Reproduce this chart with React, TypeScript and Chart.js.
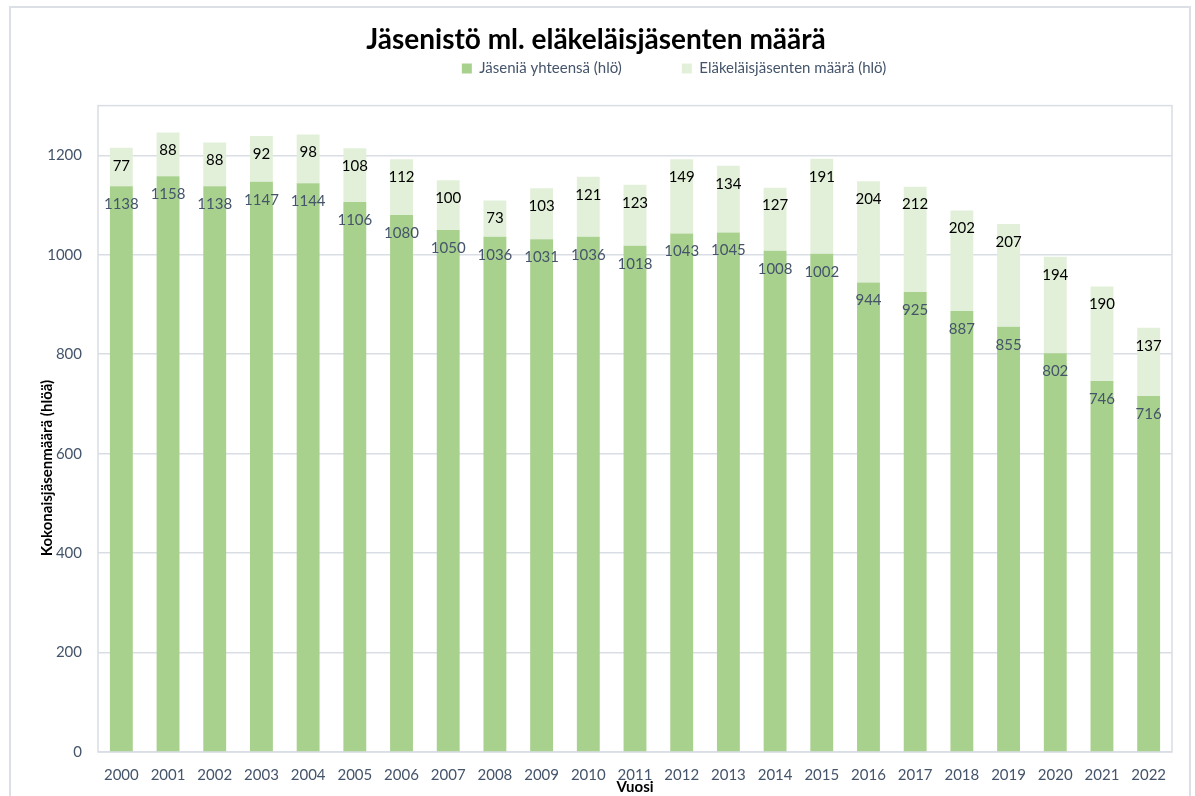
import React, { useEffect, useRef } from "react";
import { Chart, registerables } from "chart.js";

Chart.register(...registerables);

const years = ["2000","2001","2002","2003","2004","2005","2006","2007","2008","2009","2010","2011","2012","2013","2014","2015","2016","2017","2018","2019","2020","2021","2022"];
const members = [1138,1158,1138,1147,1144,1106,1080,1050,1036,1031,1036,1018,1043,1045,1008,1002,944,925,887,855,802,746,716];
const pensioners = [77,88,88,92,98,108,112,100,73,103,121,123,149,134,127,191,204,212,202,207,194,190,137];
const seriesNames = ["Jäseniä yhteensä (hlö)", "Eläkeläisjäsenten määrä (hlö)"];
const titleText = "Jäsenistö ml. eläkeläisjäsenten määrä";
const yTitle = "Kokonaisjäsenmäärä (hlöä)";
const xTitle = "Vuosi";

const FONT = "Lato, 'Open Sans', sans-serif";
const TICK_COLOR = "#44546A";
const GRID = "#D9DDE4";

const outerBorder = {
  id: "outerBorder",
  beforeDraw(chart: any) {
    const { ctx } = chart;
    ctx.save();
    ctx.fillStyle = "#ffffff";
    ctx.fillRect(0, 0, chart.width, chart.height);
    ctx.strokeStyle = "#DCDFE6";
    ctx.lineWidth = 2;
    ctx.strokeRect(10, 7, 1180, 820);
    ctx.restore();
  },
};

const plotFrame = {
  id: "plotFrame",
  beforeDatasetsDraw(chart: any) {
    const { ctx, chartArea: a } = chart;
    ctx.save();
    ctx.strokeStyle = GRID;
    ctx.lineWidth = 1.5;
    ctx.strokeRect(a.left, a.top, a.right - a.left, a.bottom - a.top);
    ctx.restore();
  },
};

const yAxisTitle = {
  id: "yAxisTitle",
  afterDraw(chart: any) {
    const { ctx } = chart;
    ctx.save();
    ctx.translate(47, 468);
    ctx.rotate(-Math.PI / 2);
    ctx.font = `bold 15px ${FONT}`;
    ctx.fillStyle = "#000000";
    ctx.textAlign = "center";
    ctx.textBaseline = "middle";
    ctx.fillText(yTitle, 0, 0);
    ctx.restore();
  },
};

const legendTweak = {
  id: "legendTweak",
  beforeInit(chart: any) {
    const lg = chart.legend;
    if (lg && !lg.__patched) {
      const orig = lg.fit;
      lg.fit = function () {
        orig.call(this);
        this.height = 49;
      };
      lg.__patched = true;
    }
  },
  afterLayout(chart: any) {
    const lg = chart.legend;
    if (!lg) return;
    const shift = 78;
    lg.left += shift;
    lg.right += shift;
    const pad = lg.options.labels.padding;
    lg.top = 69 - pad - 8;
    lg.bottom = 104;
    lg.height = lg.bottom - lg.top;
  },
};

const barLabels = {
  id: "barLabels",
  afterDatasetsDraw(chart: any) {
    const { ctx } = chart;
    const colors = [TICK_COLOR, "#000000"];
    ctx.save();
    ctx.font = `15px ${FONT}`;
    ctx.textAlign = "center";
    ctx.textBaseline = "middle";
    chart.data.datasets.forEach((ds: any, i: number) => {
      const meta = chart.getDatasetMeta(i);
      ctx.fillStyle = colors[i];
      meta.data.forEach((el: any, j: number) => {
        ctx.fillText(String(ds.data[j]), el.x, el.y + 18);
      });
    });
    ctx.restore();
  },
};

export default function App() {
  const ref = useRef<HTMLCanvasElement>(null);
  useEffect(() => {
    if (!ref.current) return;
    const chart = new Chart(ref.current, {
      type: "bar",
      data: {
        labels: years,
        datasets: [
          { label: seriesNames[0], data: members, backgroundColor: "#A9D18E", barPercentage: 0.49, categoryPercentage: 1 },
          { label: seriesNames[1], data: pensioners, backgroundColor: "#E2F0D9", barPercentage: 0.49, categoryPercentage: 1 },
        ],
      },
      options: {
        animation: false,
        responsive: true,
        maintainAspectRatio: false,
        layout: { padding: { left: 20, right: 23, top: 0, bottom: 0 } },
        plugins: {
          title: {
            display: true,
            text: titleText,
            color: "#000000",
            font: { family: FONT, size: 28, weight: "bold" },
            padding: { top: 23, bottom: 0 },
          },
          legend: {
            display: true,
            labels: {
              boxWidth: 10,
              boxHeight: 10,
              padding: 60,
              color: TICK_COLOR,
              font: { family: FONT, size: 15 },
            },
          },
          tooltip: { enabled: false },
        },
        scales: {
          x: {
            stacked: true,
            grid: { display: false, drawTicks: false },
            border: { display: false },
            ticks: { color: TICK_COLOR, font: { family: FONT, size: 15 }, padding: 14, maxRotation: 0, autoSkip: false },
            title: { display: true, text: xTitle, color: "#000000", font: { family: FONT, size: 15, weight: "bold" }, padding: { top: 0, bottom: 0 } },
            afterFit(s: any) { s.height = 44; },
          },
          y: {
            stacked: true,
            min: 0,
            max: 1300,
            grid: { color: GRID, lineWidth: 1.5, drawTicks: false },
            border: { display: false },
            ticks: {
              stepSize: 200,
              includeBounds: false,
              color: TICK_COLOR,
              font: { family: FONT, size: 15 },
              padding: 16,
              callback: (v: any) => String(v),
            },
            title: { display: false, text: yTitle },
            afterFit(s: any) { s.width = 78; },
          },
        },
      },
      plugins: [outerBorder, plotFrame, legendTweak, barLabels, yAxisTitle],
    });
    return () => chart.destroy();
  }, []);
  return (
    <div style={{ position: "absolute", left: 0, top: 0, width: 1195, height: 796 }}>
      <canvas ref={ref} />
    </div>
  );
}
